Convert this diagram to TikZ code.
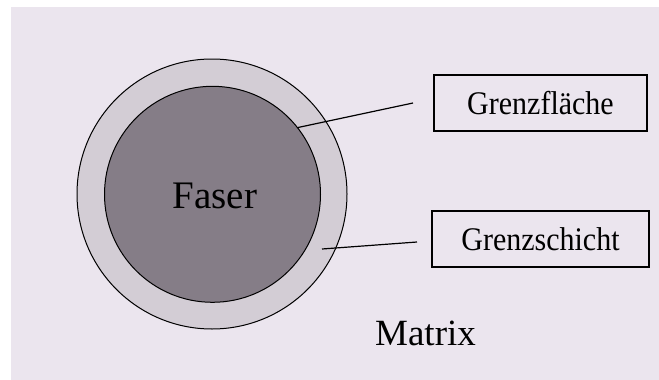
\documentclass[tikz,border=0pt]{standalone}
\usepackage{fontspec}
\setmainfont{Liberation Serif}
\definecolor{bgcol}{HTML}{EBE5EE}
\definecolor{ringcol}{HTML}{D3CDD5}
\definecolor{corecol}{HTML}{857D87}
\begin{document}
\begin{tikzpicture}[x=1pt,y=-1pt,
  lbl/.style={draw=black,line width=1.2pt,inner sep=0pt,minimum width=213pt,minimum height=56pt,
    font=\fontsize{30}{32}\selectfont},
  conn/.style={line width=1.2pt,draw=black}]
\useasboundingbox (0,0) rectangle (659,380);
\fill[white] (0,0) rectangle (659,380);
\fill[bgcol] (11,7) rectangle (659,380);
\node[circle,draw=black,line width=1pt,fill=ringcol,minimum size=270pt,inner sep=0pt] (ring) at (212,194) {};
\node[circle,draw=black,line width=1pt,fill=corecol,minimum size=216pt,inner sep=0pt] (core) at (212.5,194.3) {};
\node[font=\fontsize{39}{41}\selectfont] (faser) at (215,196) {Faser};
\node[lbl] (gf) at (540.5,103) {\scalebox{1}[1.1]{Grenzfläche}};
\node[lbl,minimum width=217pt] (gs) at (540.5,239) {\scalebox{1}[1.1]{Grenzschicht}};
\node[font=\fontsize{37}{39}\selectfont] (matrix) at (425.5,333) {Matrix};
\coordinate (gfend) at (413,103);
\coordinate (gsend) at (417,242);
\coordinate (gsstart) at (322,249);
\draw[conn] (core.38) -- (gfend);
\draw[conn] (gsstart) -- (gsend);
\end{tikzpicture}
\end{document}
